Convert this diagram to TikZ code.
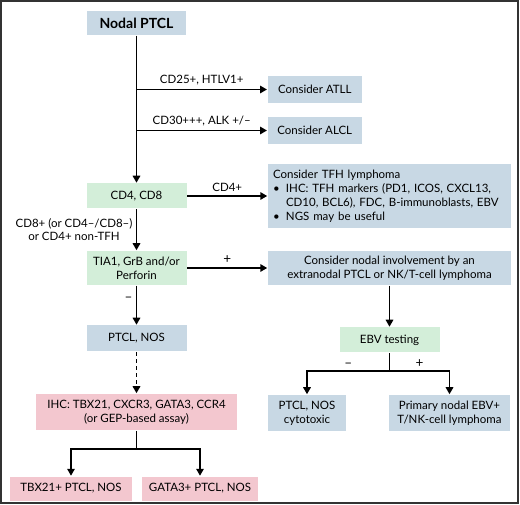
\documentclass[tikz,border=0pt]{standalone}
\usepackage{fontspec}
\setmainfont{Lato}
\usepackage{tikz}
\usetikzlibrary{arrows.meta, positioning, calc}
\definecolor{ptclblue}{HTML}{C8D8E4}
\definecolor{ptclgreen}{HTML}{D3EED9}
\definecolor{ptclpink}{HTML}{F3C7CF}
\newcommand{\Bul}{\hspace*{3pt}\makebox[13pt][l]{\textbullet}}
\newcommand{\Hang}{\hspace*{16pt}}

\begin{document}
\begin{tikzpicture}[x=1pt,y=-1pt,>={Triangle[length=7pt,width=7.5pt]},
  line width=1.5pt,node distance=41pt,
        box/.style={inner sep=0pt,align=center,font=\fontsize{11.5}{14}\selectfont},
        blue node/.style={box,fill=ptclblue},
        green node/.style={box,fill=ptclgreen},
        pink node/.style={box,fill=ptclpink},
        edge label/.style={font=\fontsize{11.5}{13.5}\selectfont},
        sign label/.style={font=\fontsize{13.5}{14}\selectfont}]
    \useasboundingbox (0,0) rectangle (520,505);
    \draw[line width=1.5pt, black!80] (1,1) rectangle (518,503);
    % left column
    \node[blue node, minimum width=99pt, minimum height=24pt,
      font=\fontsize{14}{16}\selectfont\bfseries] (1) at (136.5,23) {Nodal PTCL};
    \node[green node, minimum width=100pt, minimum height=25pt] (2) [below=147pt of 1] {CD4, CD8};
    \node[green node, minimum width=100pt, minimum height=34pt] (3) [below=of 2] {TIA1, GrB and/or\\Perforin};
    \node[blue node, minimum width=100pt, minimum height=26pt] (4) [below=39pt of 3] {PTCL, NOS};
    \node[pink node, minimum width=201pt, minimum height=36pt] (5) [below=of 4] {IHC: TBX21, CXCR3, GATA3, CCR4\\(or GEP-based assay)};
    \node[pink node, minimum width=122pt, minimum height=24pt] (6) [below=45pt of 5, xshift=-65.5pt] {TBX21+ PTCL, NOS};
    \node[pink node, minimum width=116pt, minimum height=24pt] (7) [below=45pt of 5, xshift=63.5pt] {GATA3+ PTCL, NOS};
    % right column
    \node[blue node, minimum width=94pt, minimum height=27pt, anchor=west] (8) at (267,89.5) {Consider ATLL};
    \node[blue node, minimum width=94pt, minimum height=27pt, anchor=west] (9) at (267,130.5) {Consider ALCL};
    \node[blue node, minimum height=64pt, inner xsep=2pt, text width=239pt, align=left] (10) [right=80pt of 2]
      {\hspace*{3pt}Consider TFH lymphoma\\
       \Bul IHC: TFH markers (PD1, ICOS, CXCL13,\\
       \Hang CD10, BCL6), FDC, B-immunoblasts, EBV\\
       \Bul NGS may be useful};
    \node[blue node, minimum width=243pt, minimum height=34pt] (11) [right=80pt of 3] {Consider nodal involvement by an\\extranodal PTCL or NK/T-cell lymphoma};
    \node[green node, minimum width=100pt, minimum height=25pt] (12) [below=of 11] {EBV testing};
    \node[blue node, minimum width=78pt, minimum height=36pt] (13) [below=of 12, xshift=-82.5pt] {PTCL, NOS\\cytotoxic};
    \node[blue node, minimum width=121pt, minimum height=36pt] (14) [below=of 12, xshift=60pt] {Primary nodal EBV+\\T/NK-cell lymphoma};
    \coordinate (5b) at ($(5.south)+(0,18)$);
    \coordinate (12b) at ($(12.south)+(0,18)$);
  \path[->, every node/.style={edge label}]
      (1) edge (2)
      (1 |- 8) edge node [above] {CD25+, HTLV1+} (8)
      (1 |- 9) edge node [above] {CD30+++, ALK +/–} (9)
      (2) edge node [above] {CD4+} (10)
      (2) edge node [left, align=center] {CD8+ (or CD4–/CD8–)\\or CD4+ non-TFH} (3)
      (3) edge node [above, sign label] {+} (11)
      (3) edge node [left, pos=0.35, sign label] {–} (4)
      (4) edge [dash pattern=on 4pt off 3pt] (5)
      (11) edge (12);
  \draw[->] (5.south) -- (5b) -| (6);
  \draw[->] (5b) -| (7);
  \draw[->] (12.south) -- (12b) -| node [sign label, above, pos=0.25] {–} (13);
  \draw[->] (12b) -| node [sign label, above, pos=0.25] {+} (14);
  \end{tikzpicture}
\end{document}
